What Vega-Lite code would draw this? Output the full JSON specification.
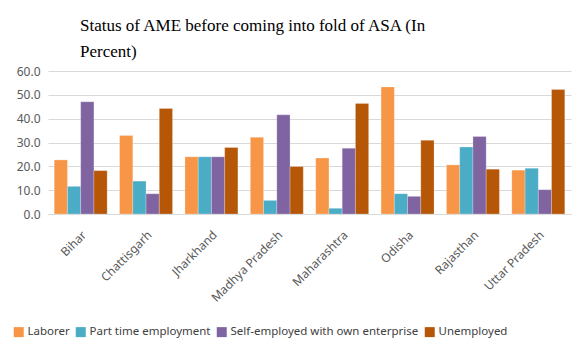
{
  "$schema": "https://vega.github.io/schema/vega-lite/v6.json",
  "width": 523,
  "height": 143,
  "autosize": {"type": "none"},
  "padding": {"left": 48, "top": 71, "right": 14, "bottom": 136},
  "background": "white",
  "title": {
    "text": ["Status of AME before coming into fold of ASA (In", "Percent)"],
    "font": "Liberation Serif",
    "fontSize": 17,
    "fontWeight": "normal",
    "color": "#000000",
    "anchor": "start",
    "frame": "group",
    "dx": 32,
    "offset": 4,
    "lineHeight": 26
  },
  "data": {
    "values": [
      {"state": "Bihar", "status": "Laborer", "value": 22.7},
      {"state": "Bihar", "status": "Part time employment", "value": 11.6},
      {"state": "Bihar", "status": "Self-employed with own enterprise", "value": 47.1},
      {"state": "Bihar", "status": "Unemployed", "value": 18.2},
      {"state": "Chattisgarh", "status": "Laborer", "value": 32.9},
      {"state": "Chattisgarh", "status": "Part time employment", "value": 13.8},
      {"state": "Chattisgarh", "status": "Self-employed with own enterprise", "value": 8.5},
      {"state": "Chattisgarh", "status": "Unemployed", "value": 44.3},
      {"state": "Jharkhand", "status": "Laborer", "value": 24.0},
      {"state": "Jharkhand", "status": "Part time employment", "value": 24.0},
      {"state": "Jharkhand", "status": "Self-employed with own enterprise", "value": 24.0},
      {"state": "Jharkhand", "status": "Unemployed", "value": 27.9},
      {"state": "Madhya Pradesh", "status": "Laborer", "value": 32.2},
      {"state": "Madhya Pradesh", "status": "Part time employment", "value": 5.7},
      {"state": "Madhya Pradesh", "status": "Self-employed with own enterprise", "value": 41.6},
      {"state": "Madhya Pradesh", "status": "Unemployed", "value": 19.9},
      {"state": "Maharashtra", "status": "Laborer", "value": 23.5},
      {"state": "Maharashtra", "status": "Part time employment", "value": 2.4},
      {"state": "Maharashtra", "status": "Self-employed with own enterprise", "value": 27.6},
      {"state": "Maharashtra", "status": "Unemployed", "value": 46.4},
      {"state": "Odisha", "status": "Laborer", "value": 53.3},
      {"state": "Odisha", "status": "Part time employment", "value": 8.5},
      {"state": "Odisha", "status": "Self-employed with own enterprise", "value": 7.4},
      {"state": "Odisha", "status": "Unemployed", "value": 30.9},
      {"state": "Rajasthan", "status": "Laborer", "value": 20.6},
      {"state": "Rajasthan", "status": "Part time employment", "value": 28.1},
      {"state": "Rajasthan", "status": "Self-employed with own enterprise", "value": 32.5},
      {"state": "Rajasthan", "status": "Unemployed", "value": 18.8},
      {"state": "Uttar Pradesh", "status": "Laborer", "value": 18.4},
      {"state": "Uttar Pradesh", "status": "Part time employment", "value": 19.2},
      {"state": "Uttar Pradesh", "status": "Self-employed with own enterprise", "value": 10.2},
      {"state": "Uttar Pradesh", "status": "Unemployed", "value": 52.2}
    ]
  },
  "mark": {"type": "bar", "stroke": "#ffffff", "strokeWidth": 0.4, "strokeOpacity": 0.6},
  "encoding": {
    "x": {
      "field": "state",
      "type": "nominal",
      "sort": null,
      "scale": {"paddingInner": 0.19, "paddingOuter": 0.095},
      "axis": {
        "title": null,
        "labelAngle": -45,
        "labelFont": "Noto Sans",
        "labelFontSize": 12,
        "labelColor": "#595959",
        "ticks": false,
        "domainColor": "#D9D9D9",
        "labelPadding": 15,
        "labelDx": 3
      }
    },
    "xOffset": {
      "field": "status",
      "type": "nominal",
      "sort": null,
      "scale": {"paddingInner": 0, "paddingOuter": 0}
    },
    "y": {
      "field": "value",
      "type": "quantitative",
      "scale": {"domain": [0, 60]},
      "axis": {
        "title": null,
        "format": ".1f",
        "values": [0, 10, 20, 30, 40, 50, 60],
        "labelFont": "Noto Sans",
        "labelFontSize": 12,
        "labelColor": "#595959",
        "ticks": false,
        "domain": false,
        "gridColor": "#D9D9D9",
        "labelPadding": 8
      }
    },
    "color": {
      "field": "status",
      "type": "nominal",
      "sort": null,
      "scale": {
        "domain": ["Laborer", "Part time employment", "Self-employed with own enterprise", "Unemployed"],
        "range": ["#F79646", "#4BACC6", "#8064A2", "#B65708"]
      },
      "legend": {
        "title": null,
        "orient": "none",
        "direction": "horizontal",
        "legendX": -35,
        "legendY": 255,
        "symbolType": "square",
        "symbolSize": 100,
        "symbolStrokeWidth": 0,
        "labelFont": "Noto Sans",
        "labelFontSize": 11.5,
        "labelLimit": 300,
        "labelColor": "#404040",
        "columnPadding": 5,
        "labelOffset": 3
      }
    }
  },
  "config": {"view": {"stroke": null}}
}
